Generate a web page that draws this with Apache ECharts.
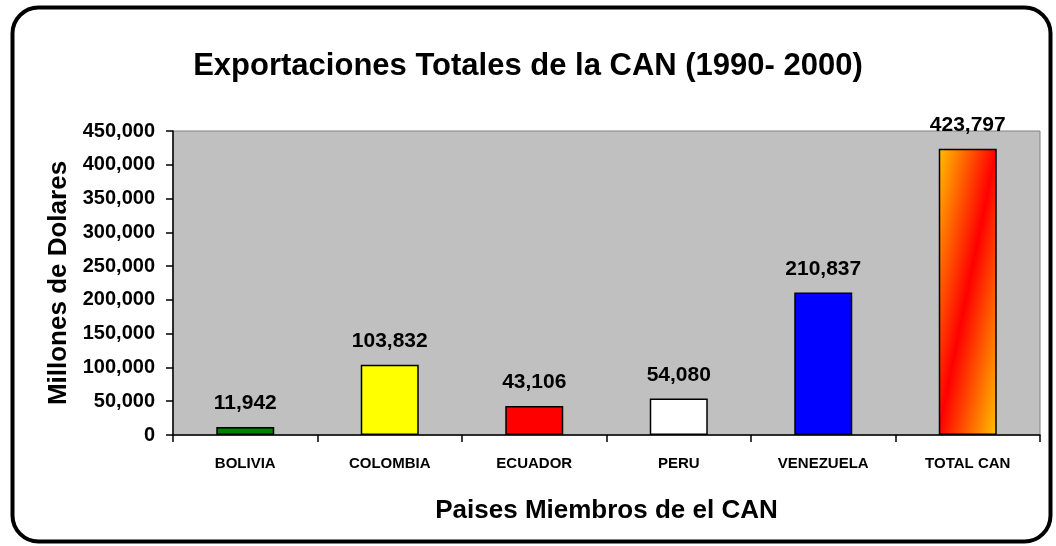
<!DOCTYPE html>
<html>
<head>
<meta charset="utf-8">
<script src="https://cdn.jsdelivr.net/npm/echarts@6/dist/echarts.min.js"></script>
<style>
  html, body { margin: 0; padding: 0; background: #fff; }
  #chart { width: 1056px; height: 546px; }
</style>
</head>
<body>
<div id="chart"></div>
<script>
// datos
const paises = ['BOLIVIA', 'COLOMBIA', 'ECUADOR', 'PERU', 'VENEZUELA', 'TOTAL CAN']
const exportaciones = [11942, 103832, 43106, 54080, 210837, 423797]
const colores = ['#008000', '#ffff00', '#ff0000', '#ffffff', '#0000ff', null]

const fuente = 'Liberation Sans, Arial, sans-serif'

// degradado diagonal para el total (franja roja de arriba-derecha a abajo-izquierda)
const degradadoTotal = new echarts.graphic.LinearGradient(0, 0, 1.92, 0.08, [
  { offset: 0, color: '#ffc000' },
  { offset: 0.5, color: '#ff0000' },
  { offset: 1, color: '#ffc000' },
])

const chart = echarts.init(document.getElementById('chart'))

const options = {
  backgroundColor: '#ffffff',
  animation: false,
  graphic: [
    {
      type: 'rect',
      left: 10,
      top: 5,
      shape: { width: 1038, height: 534, r: 26 },
      style: { fill: 'none', stroke: '#000', lineWidth: 4 },
      z: 100,
    },
  ],
  title: {
    text: 'Exportaciones Totales de la CAN (1990- 2000)',
    left: 'center',
    top: 46,
    textStyle: {
      fontFamily: fuente,
      fontSize: 31,
      fontWeight: 'bold',
      color: '#000',
    },
  },
  grid: {
    left: 173,
    right: 16,
    top: 131,
    bottom: 111,
    show: true,
    backgroundColor: '#c0c0c0',
    borderColor: '#808080',
    borderWidth: 1,
  },
  xAxis: {
    type: 'category',
    data: paises,
    name: 'Paises Miembros de el CAN',
    nameLocation: 'middle',
    nameGap: 63,
    nameTextStyle: {
      fontFamily: fuente,
      fontSize: 26,
      fontWeight: 'bold',
      color: '#000',
    },
    axisLine: { lineStyle: { color: '#000', width: 1.5 } },
    axisTick: { show: true, length: 7, lineStyle: { color: '#000', width: 1.5 } },
    axisLabel: {
      interval: 0,
      margin: 21,
      fontFamily: fuente,
      fontSize: 15,
      fontWeight: 'bold',
      color: '#000',
    },
  },
  yAxis: {
    type: 'value',
    min: 0,
    max: 450000,
    interval: 50000,
    name: 'Millones de Dolares',
    nameLocation: 'middle',
    nameGap: 99,
    nameTextStyle: {
      fontFamily: fuente,
      fontSize: 26,
      fontWeight: 'bold',
      color: '#000',
    },
    axisLine: { show: true, lineStyle: { color: '#000', width: 1.5 } },
    axisTick: { show: true, length: 7, lineStyle: { color: '#000', width: 1.5 } },
    splitLine: { show: false },
    axisLabel: {
      margin: 18,
      fontFamily: fuente,
      fontSize: 20,
      fontWeight: 'bold',
      color: '#000',
      formatter: v => v.toLocaleString('en-US'),
    },
  },
  series: [
    {
      type: 'bar',
      barWidth: 58,
      data: exportaciones.map((v, i) => ({
        value: v,
        itemStyle: {
          color: colores[i] || degradadoTotal,
          borderColor: '#000',
          borderWidth: 1.5,
        },
      })),
      label: {
        show: true,
        position: 'top',
        distance: 13,
        fontFamily: fuente,
        fontSize: 21,
        fontWeight: 'bold',
        color: '#000',
        formatter: p => p.value.toLocaleString('en-US'),
      },
    },
  ],
}

chart.setOption(options)
window.addEventListener('resize', function () {
  chart && chart.resize()
})
</script>
</body>
</html>
